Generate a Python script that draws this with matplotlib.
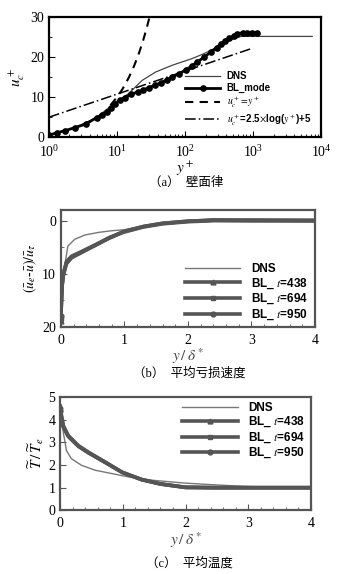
import matplotlib
matplotlib.use("Agg")
import matplotlib.pyplot as plt
from matplotlib.ticker import MultipleLocator, LogLocator, NullFormatter

plt.rcParams['font.family'] = ['Liberation Serif', 'Noto Sans CJK SC']
plt.rcParams['mathtext.fontset'] = 'stix'

# (a) wall law
a_bl_y = [1.0, 1.3, 1.7, 2.4, 3.5, 5.0, 6.0, 7.1, 8.2, 9.3, 11.0, 13.2, 16.0, 20, 24, 29.5, 36, 44, 54, 65, 82,
          102, 125, 151, 190, 240, 290, 339, 390, 447, 520, 589, 700, 813, 980, 1148]
a_bl_u = [0.5, 1.1, 1.6, 2.4, 3.3, 4.9, 5.6, 6.3, 7.4, 8.4, 9.2, 9.9, 10.7, 11.3, 11.8, 12.4, 13.0, 13.6, 14.3, 15.1, 15.9,
          16.8, 17.8, 18.8, 20.0, 21.3, 22.4, 23.4, 24.1, 24.7, 25.4, 25.9, 26.1, 26.1, 26.1, 26.1]
a_dns_y = [1.0, 2.4, 5.0, 9.3, 14.8, 23.4, 37, 65, 129, 190, 340, 447, 660, 1000, 7400]
a_dns_u = [0.5, 2.4, 4.9, 8.6, 10.9, 14.2, 16.3, 18.0, 19.7, 20.9, 23.0, 24.2, 25.2, 25.2, 25.2]
a_lin_y = [8, 10, 12, 15, 18, 21, 24, 27, 30]
a_lin_u = [8, 10, 12, 15, 18, 21, 24, 27, 30]
a_log_y = [1, 1000]
a_log_u = [5.0, 22.3]

# (b) velocity defect
b_dns_x = [0.0, 0.02, 0.06, 0.11, 0.22, 0.38, 0.6, 0.8, 1.0, 1.3, 1.6, 2.0, 2.4, 3.0, 4.0]
b_dns_v = [18, 12, 8.6, 4.8, 3.5, 2.7, 2.2, 1.9, 1.7, 1.0, 0.5, 0.0, -0.3, -0.3, -0.3]
b_bl_x = [0.0, 0.01, 0.02, 0.04, 0.09, 0.17, 0.33, 0.55, 0.76, 0.98, 1.3, 1.6, 2.0, 2.4, 3.0, 4.0]
b_bl438 = [19, 15, 12, 9.9, 7.7, 6.7, 5.8, 4.5, 3.2, 2.1, 1.1, 0.5, 0.1, -0.1, -0.1, 0.0]
b_bl694 = [18.5, 15, 12.2, 10.1, 7.9, 6.8, 5.9, 4.6, 3.3, 2.1, 1.1, 0.5, 0.1, -0.1, 0.0, 0.0]
b_bl950 = [18, 15, 12.4, 10.3, 8.1, 7.0, 6.0, 4.6, 3.3, 2.2, 1.2, 0.6, 0.2, 0.0, 0.0, 0.0]

# (c) temperature
c_dns_x = [0.0, 0.02, 0.05, 0.1, 0.18, 0.34, 0.56, 0.83, 1.1, 1.5, 2.0, 2.5, 3.0, 4.0]
c_dns_t = [4.5, 4.0, 3.45, 2.64, 2.28, 1.99, 1.77, 1.62, 1.47, 1.32, 1.2, 1.12, 1.05, 1.0]
c_bl_x = [0.0, 0.02, 0.05, 0.13, 0.29, 0.45, 0.72, 0.99, 1.3, 1.6, 2.0, 2.5, 3.0, 4.0]
c_bl438 = [4.6, 4.2, 3.75, 3.3, 2.86, 2.57, 2.13, 1.68, 1.36, 1.17, 1.02, 1.0, 1.0, 1.0]
c_bl694 = [4.5, 4.15, 3.7, 3.28, 2.84, 2.55, 2.12, 1.68, 1.36, 1.16, 1.01, 1.0, 1.0, 1.0]
c_bl950 = [4.4, 4.1, 3.68, 3.26, 2.83, 2.54, 2.11, 1.67, 1.35, 1.16, 1.01, 1.0, 1.0, 1.0]

grey = '#555555'
legfont_a = {'family': 'Liberation Sans', 'weight': 'bold', 'size': 7}
legfont = {'family': 'Liberation Sans', 'weight': 'bold', 'size': 8.5}

fig = plt.figure(figsize=(3.38, 5.74), dpi=100)


def style_axes(ax, color):
    for s in ax.spines.values():
        s.set_linewidth(1.6)
        s.set_color(color)
    ax.tick_params(which='both', direction='in', labelsize=10, color=color)
    ax.tick_params(which='major', length=4)
    ax.tick_params(which='minor', length=2)
    ax.tick_params(axis='x', pad=5)


# Panel (a)
ax1 = fig.add_axes([0.145, 0.761, 0.805, 0.209])
ax1.plot(a_dns_y, a_dns_u, color='#444444', lw=0.9, label='DNS')
ax1.plot(a_bl_y, a_bl_u, color='black', lw=2.0, marker='o', ms=3.8, label='BL_mode')
ax1.plot(a_lin_y, a_lin_u, color='black', lw=1.5, ls=(0, (4, 3)), label=r'$u_c^+\!=\!y^+$')
ax1.plot(a_log_y, a_log_u, color='black', lw=1.1, ls=(0, (7, 2, 1, 2)),
         label=r'$u_c^+$=2.5$\times$log($y^+$)+5')
ax1.set_xscale('log')
ax1.set_xlim(1, 1e4)
ax1.set_ylim(0, 30)
ax1.set_yticks([0, 10, 20, 30])
ax1.yaxis.set_minor_locator(MultipleLocator(5))
ax1.xaxis.set_minor_locator(LogLocator(subs=range(2, 10)))
ax1.xaxis.set_minor_formatter(NullFormatter())
style_axes(ax1, 'black')
ax1.set_xlabel(r'$y^+$', fontsize=11, labelpad=0)
ax1.set_ylabel(r'$u_c^+$', fontsize=11, labelpad=2)
ax1.legend(loc='upper left', bbox_to_anchor=(0.50, 0.55), frameon=False, prop=legfont_a,
           handlelength=3.6, labelspacing=0.2, borderaxespad=0, borderpad=0, handletextpad=0.7)

# Panel (b)
ax2 = fig.add_axes([0.180, 0.431, 0.752, 0.203])
ax2.plot(b_dns_x, b_dns_v, color='#777777', lw=1.0, label='DNS')
ax2.plot(b_bl_x, b_bl438, color=grey, lw=2.6, marker='^', ms=3.5, markevery=[0], label=r'BL_ $t$=438')
ax2.plot(b_bl_x, b_bl694, color=grey, lw=2.6, marker='s', ms=3.5, markevery=[0], label=r'BL_ $t$=694')
ax2.plot(b_bl_x, b_bl950, color=grey, lw=2.6, marker='o', ms=3.5, markevery=[0], label=r'BL_ $t$=950')
ax2.set_xlim(0, 4)
ax2.set_ylim(20, -2)
ax2.set_yticks([0, 10, 20])
ax2.yaxis.set_minor_locator(MultipleLocator(5))
ax2.xaxis.set_minor_locator(MultipleLocator(0.2))
style_axes(ax2, grey)
ax2.set_xlabel(r'$y\,/\,\delta^*$', fontsize=11, labelpad=0, color='#444444')
ax2.set_ylabel(r'$(\bar{u}_e$-$\bar{u})/\bar{u}_\tau$', fontsize=10, labelpad=2)
ax2.legend(loc='upper left', bbox_to_anchor=(0.488, 0.545), frameon=False, prop=legfont,
           handlelength=4.7, labelspacing=0.1, borderaxespad=0, borderpad=0, handletextpad=0.9)

# Panel (c)
ax3 = fig.add_axes([0.178, 0.111, 0.742, 0.197])
ax3.plot(c_dns_x, c_dns_t, color='#777777', lw=1.0, label='DNS')
ax3.plot(c_bl_x, c_bl438, color=grey, lw=2.6, marker='^', ms=3.5, markevery=[0], label=r'BL_ $t$=438')
ax3.plot(c_bl_x, c_bl694, color=grey, lw=2.6, marker='s', ms=3.5, markevery=[0], label=r'BL_ $t$=694')
ax3.plot(c_bl_x, c_bl950, color=grey, lw=2.6, marker='o', ms=3.5, markevery=[0], label=r'BL_ $t$=950')
ax3.set_xlim(0, 4)
ax3.set_ylim(0, 5)
ax3.set_yticks([0, 1, 2, 3, 4, 5])
ax3.xaxis.set_minor_locator(MultipleLocator(0.2))
style_axes(ax3, grey)
ax3.set_xlabel(r'$y\,/\,\delta^*$', fontsize=11, labelpad=0, color='#444444')
ax3.set_ylabel(r'$\widetilde{T}\,/\,\widetilde{T}_e$', fontsize=11, labelpad=2)
ax3.legend(loc='upper left', bbox_to_anchor=(0.486, 0.96), frameon=False, prop=legfont,
           handlelength=4.7, labelspacing=0.1, borderaxespad=0, borderpad=0, handletextpad=0.9)

# captions
fig.text(0.55, 0.681, '（a）  壁面律', ha='center', va='center', fontsize=9)
fig.text(0.56, 0.350, '（b）  平均亏损速度', ha='center', va='center', fontsize=9)
fig.text(0.56, 0.019, '（c）  平均温度', ha='center', va='center', fontsize=9)

fig.savefig('out.png', dpi=100)
